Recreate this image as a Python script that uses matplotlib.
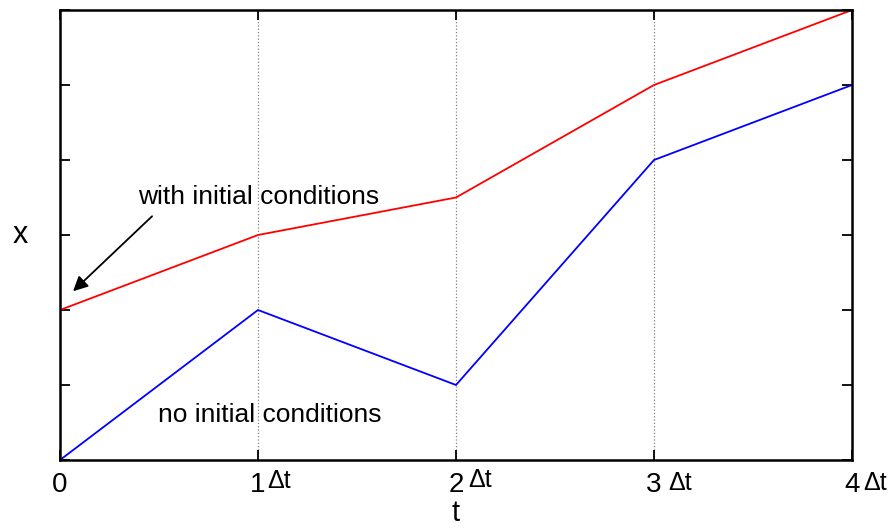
import matplotlib.pyplot as plt
import numpy as np

plt.rcParams['font.family'] = ['Liberation Sans', 'DejaVu Sans']

t = [0, 1, 2, 3, 4]
x_with = [2, 3, 3.5, 5, 6]
x_without = [0, 2, 1, 4, 5]
tick_labels = ['0', '1', '2', '3', '4']

fig = plt.figure(figsize=(8.94, 5.29), dpi=100)
ax = fig.add_axes([60 / 894, 69 / 529, 792 / 894, 450 / 529])

for xv in t[1:-1]:
    ax.axvline(xv, color='gray', linestyle=':', linewidth=0.9, zorder=0)

ax.plot(t, x_with, color='red', linewidth=1.3)
ax.plot(t, x_without, color='blue', linewidth=1.3)

ax.set_xlim(0, 4)
ax.set_ylim(0, 6)
ax.set_xticks(t)
ax.set_xticklabels(tick_labels, fontsize=20)
ax.set_yticks(np.arange(0, 7))
ax.set_yticklabels([])
ax.tick_params(direction='in', length=7, width=1.3, top=True, right=True, pad=9)
for s in ax.spines.values():
    s.set_linewidth(1.8)

# the little "delta t" next to each tick label
dt_offsets = {1: (15, -20), 2: (17.5, -19.5), 3: (19, -21.5), 4: (16.5, -21.5)}
for k, (dx, dy) in dt_offsets.items():
    ax.annotate('\u0394t', xy=(k, 0), xytext=(dx, dy), textcoords='offset points',
                ha='center', va='baseline', fontsize=18, annotation_clip=False)

ax.set_xlabel('t', fontsize=21, va='top')
ax.xaxis.set_label_coords(0.5, -0.086)
ax.set_ylabel('x', fontsize=22, rotation=0, ha='center', va='center')
ax.yaxis.set_label_coords(-0.05, 0.5)

ax.annotate('', xy=(0.066, 2.25), xytext=(0.465, 3.25),
            arrowprops=dict(arrowstyle='-|>', color='black', lw=1.3,
                            mutation_scale=22, shrinkA=0, shrinkB=0))
ax.text(0.394, 3.5, 'with initial conditions', fontsize=19, ha='left', va='center')
ax.text(0.495, 0.6, 'no initial conditions', fontsize=19, ha='left', va='center')

fig.savefig('out.png', dpi=100)
